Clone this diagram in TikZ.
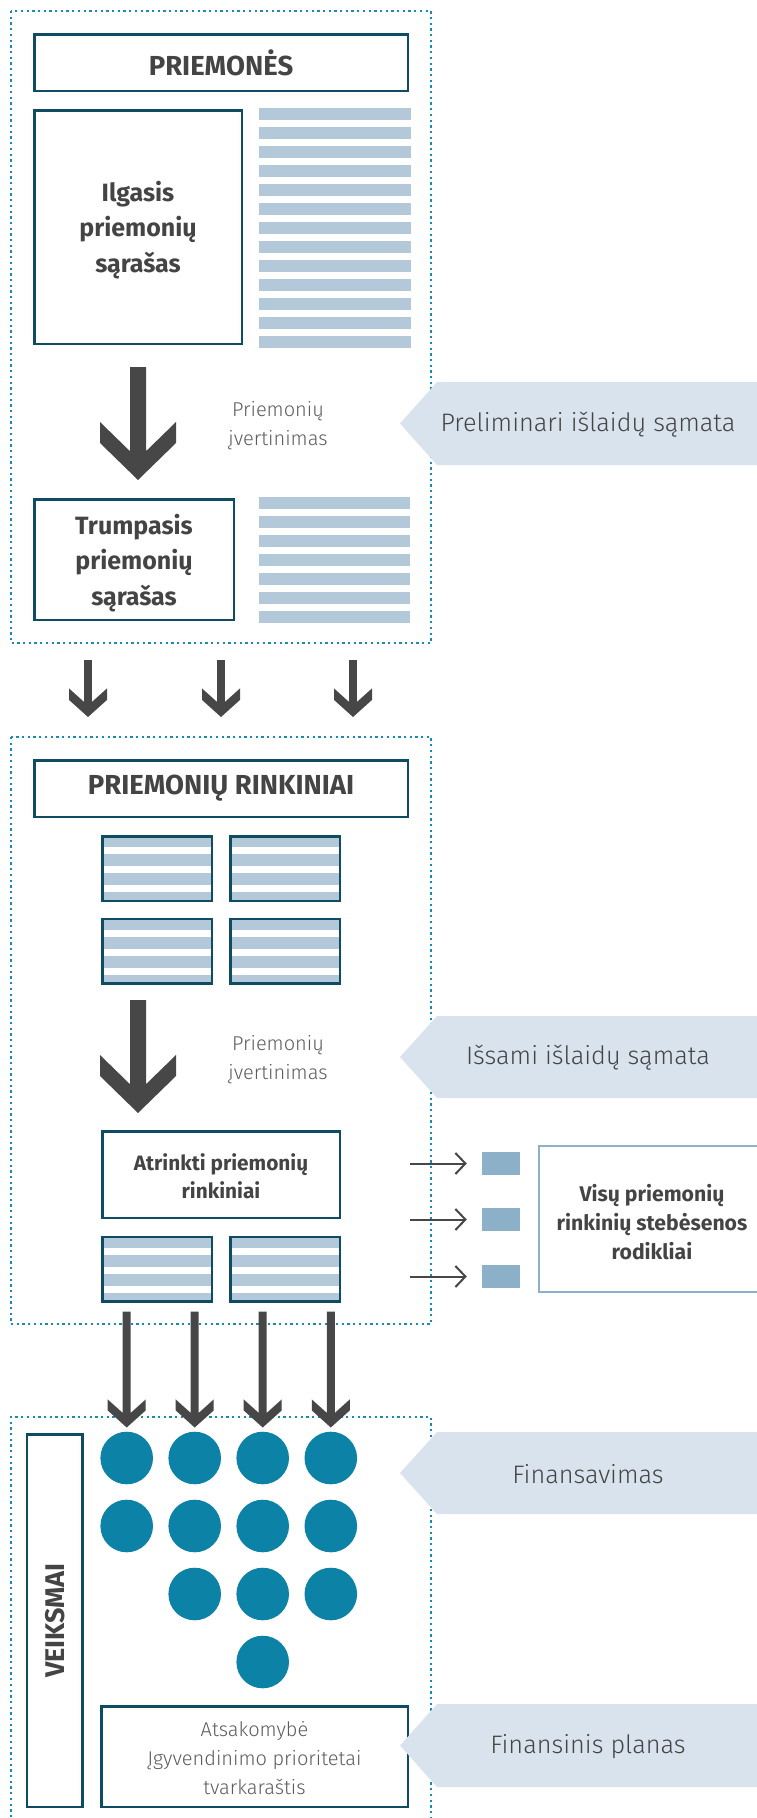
\documentclass[tikz,border=0pt]{standalone}
\usepackage{fontspec}
\setmainfont{Fira Sans}
\newfontfamily\lightfont{Fira Sans Light}
\usetikzlibrary{calc,arrows.meta}

\definecolor{frameteal}{HTML}{0F4C63}
\definecolor{textgray}{HTML}{444444}
\definecolor{softgray}{HTML}{5C5C5C}
\definecolor{arrowfill}{HTML}{474747}
\definecolor{stripefill}{HTML}{B3C8D9}
\definecolor{calloutfill}{HTML}{D9E3ED}
\definecolor{dotblue}{HTML}{1A8AB0}
\definecolor{dotfill}{HTML}{0C82A6}
\definecolor{markblue}{HTML}{8BB0C8}

% filled block arrow: shaft top, tip, shaft half width, head half width,
% vertical edge of the head, slope of the head
\newcommand\fatarrow[6]{%
  \fill[arrowfill] ($(#1)+(-#3,0)$) -- ($(#1)+(#3,0)$)
    -- ($(#2)+(#3,{-#5-#3*#6})$) -- ($(#2)+(#4,{-#4*#6-#5})$)
    -- ($(#2)+(#4,{-#4*#6})$) -- (#2)
    -- ($(#2)+(-#4,{-#4*#6})$) -- ($(#2)+(-#4,{-#4*#6-#5})$)
    -- ($(#2)+(-#3,{-#5-#3*#6})$) -- cycle;}

% pointed label band reaching in from the right edge
\newcommand\callout[3]{% top, bottom, name
  \fill[calloutfill] (400,{(#1+#2)/2}) -- (437,#1) -- (757,#1) -- (757,#2) -- (437,#2) -- cycle;
  \coordinate (#3) at (588,{(#1+#2)/2+1});}

\begin{document}
\begin{tikzpicture}[x=1pt,y=-1pt,
  frame/.style={draw=frameteal, line width=2.5pt, inner sep=0pt, align=center,
    text=textgray},
  titlebox/.style={frame, minimum width=373.5pt, minimum height=56.5pt,
    font=\bfseries\fontsize{27.5}{30}\selectfont},
  listtext/.style={font=\bfseries\fontsize{25}{35.5}\selectfont, text=textgray, align=center},
  stripebox/.style={frame, minimum width=109.5pt, minimum height=64.5pt,
    path picture={\foreach \k in {0,...,3}
      \fill[stripefill] ($(path picture bounding box.north west)+(0,{-1+19*\k})$) rectangle ++(130,12);}},
  dotframe/.style={draw=dotblue, line width=2.3pt, dash pattern=on 2.3pt off 3.4pt},
  softtext/.style={font=\lightfont\fontsize{20}{29}\selectfont, text=softgray, align=center},
  callouttext/.style={font=\lightfont\fontsize{25.3}{30}\selectfont, text=textgray},
  thinarrow/.style={draw=arrowfill, line width=2pt,
    -{Straight Barb[length=10pt,width=21pt,line width=2pt]}},
  markbox/.style={fill=markblue, minimum width=38pt, minimum height=23pt, inner sep=0pt},
  action/.style={circle, fill=dotfill, minimum size=52.6pt, inner sep=0pt},
]
\useasboundingbox (0,0) rectangle (757,1818);

% ---------- measures ----------
\draw[dotframe] (11,11) rectangle (431,643);
\node[titlebox] (measures) at (221,62.5) {PRIEMONĖS};
\node[frame, minimum width=207.5pt, minimum height=233.5pt] (longlist) at (138,227) {};
\node[listtext] at ($(longlist.center)+(0,3)$) {Ilgasis\\priemonių\\sąrašas};
\foreach \k in {0,...,12}
  \fill[stripefill] (259,{108+19*\k}) rectangle ++(152,12);

\coordinate (ar1s) at (138,367);
\coordinate (ar1t) at (138,480);
\fatarrow{ar1s}{ar1t}{8}{38}{21}{0.974}
\node[softtext] (eval1) at (278,426) {Priemonių\\įvertinimas};

\node[frame, minimum width=199.5pt, minimum height=120.5pt] (shortlist) at (134,559.5) {};
\node[listtext] at ($(shortlist.center)+(0,3.5)$) {Trumpasis\\priemonių\\sąrašas};
\foreach \k in {0,...,6}
  \fill[stripefill] (259,{497+19*\k}) rectangle ++(151,12);

\callout{382}{465}{c1}
\node[callouttext] at (c1) {Preliminari išlaidų sąmata};

% ---------- hand-over arrows ----------
\foreach \x/\n in {88/a, 221/b, 353/c}{
  \coordinate (s\n) at (\x,660);
  \coordinate (t\n) at (\x,717);
  \fatarrow{s\n}{t\n}{3.8}{19}{11.5}{0.9}
}

% ---------- packages ----------
\draw[dotframe] (11,737) rectangle (431,1324);
\node[titlebox] (packages) at (221,788.5) {PRIEMONIŲ RINKINIAI};
\node[stripebox] (p1) at (157,868.5) {};
\node[stripebox] (p2) at (285,868.5) {};
\node[stripebox] (p3) at (157,951) {};
\node[stripebox] (p4) at (285,951) {};

\coordinate (ar2s) at (138,1000);
\coordinate (ar2t) at (138,1113);
\fatarrow{ar2s}{ar2t}{8}{38}{21}{0.974}
\node[softtext] (eval2) at (278,1060) {Priemonių\\įvertinimas};

\node[frame, minimum width=237.5pt, minimum height=86.5pt] (chosen) at (221,1174.5) {};
\node[font=\bfseries\fontsize{20.8}{28}\selectfont, text=textgray, align=center]
  at ($(chosen.center)+(0,2)$) {Atrinkti priemonių\\rinkiniai};
\node[stripebox] (q1) at (157,1269) {};
\node[stripebox] (q2) at (285,1269) {};

\callout{1016}{1098}{c2}
\node[callouttext] at (c2) {Išsami išlaidų sąmata};

% indicators
\node[markbox] (m1) at (501,1163.5) {};
\node[markbox] (m2) at (501,1219.5) {};
\node[markbox] (m3) at (501,1276.5) {};
\foreach \i in {1,2,3}{
  \coordinate (f\i) at ($(m\i.west)+(-72,0)$);
  \draw[thinarrow] (f\i) -- ($(m\i.west)+(-15,0)$);
}
\node[draw=markblue, line width=2.5pt, minimum width=261pt, minimum height=146pt,
  inner sep=0pt] (monitor) at (669.5,1219) {};
\node[font=\bfseries\fontsize{21.2}{29}\selectfont, text=textgray, align=center]
  (monitortext) at (652,1222) {Visų priemonių\\rinkinių stebėsenos\\rodikliai};

% ---------- actions ----------
\draw[dotframe] (11,1840) -- (11,1417) -- (431,1417) -- (431,1840);
\node[frame, minimum width=55.5pt, minimum height=372.5pt] (actions) at (54.5,1620.5) {};
\node[rotate=90, font=\bfseries\fontsize{27}{28}\selectfont, text=textgray]
  at ($(actions.center)+(1,0)$) {VEIKSMAI};

\foreach \c/\x in {1/126.7, 2/194.7, 3/262.7, 4/330.8}{
  \node[action] (r1\c) at (\x,1458) {};
  \node[action] (r2\c) at (\x,1526) {};
}
\node[action] (r32) at (194.7,1594) {};
\node[action] (r33) at (262.7,1594) {};
\node[action] (r34) at (330.8,1594) {};
\node[action] (r43) at (262.7,1662) {};

\foreach \c/\b in {1/q1, 2/q1, 3/q2, 4/q2}{
  \coordinate (d\c) at ($(r1\c.north |- \b.south)+(0,9)$);
  \coordinate (e\c) at ($(r1\c.north)+(0,-4)$);
  \fatarrow{d\c}{e\c}{4}{19}{11}{0.9}
}

\node[frame, minimum width=306.5pt, minimum height=100.5pt] (plan) at (254.5,1756.5) {};
\node[font=\lightfont\fontsize{20}{29}\selectfont, text=softgray, align=center]
  at ($(plan.center)+(0,1.5)$) {Atsakomybė\\Įgyvendinimo prioritetai\\tvarkaraštis};

\callout{1432}{1514}{c3}
\node[callouttext] at (c3) {Finansavimas};
\callout{1704}{1787}{c4}
\node[callouttext] at (c4) {Finansinis planas};
\end{tikzpicture}
\end{document}
